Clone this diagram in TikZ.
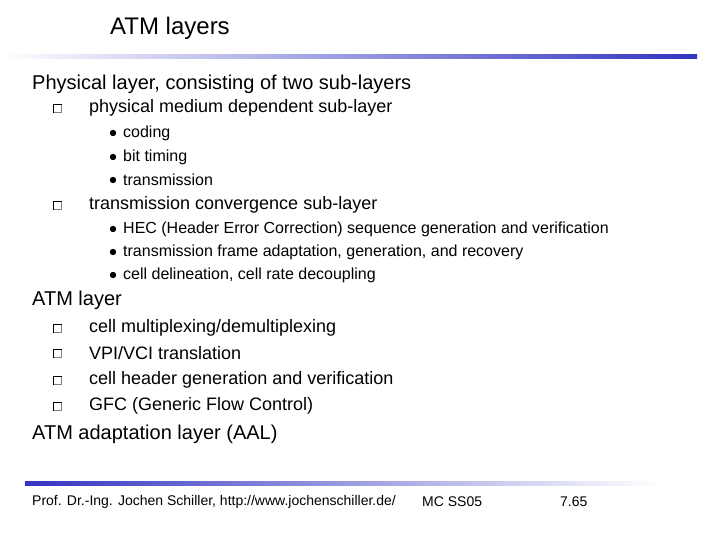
\documentclass[tikz,border=0pt]{standalone}
\usepackage{fontspec}
\setmainfont{Liberation Sans}
\begin{document}
\begin{tikzpicture}[x=1pt,y=-1pt,
  txt/.style={anchor=west,inner sep=0pt},
  lvA/.style={txt,font=\fontsize{20}{22}\selectfont},
  lvB/.style={txt,font=\fontsize{18}{20}\selectfont},
  lvC/.style={txt,font=\fontsize{16}{18}\selectfont},
  foot/.style={txt,font=\fontsize{14}{16}\selectfont}]
\useasboundingbox (0,0) rectangle (720,540);
\fill[white] (0,0) rectangle (720,540);
\shade[left color=white,right color=blue!70!black!80] (0,55) rectangle (697,59);
\shade[left color=blue!70!black!80,right color=white] (25,481) rectangle (660,485);
\node[txt,font=\fontsize{24}{26}\selectfont] (title) at (110,28) {ATM layers};
\newcommand{\qb}[1]{\draw[line width=0.8pt] (53,#1-4) rectangle (61,#1+4); \draw[line width=0.8pt,gray] (54,#1+4.8)--(61.8,#1+4.8)--(61.8,#1-3);}
\newcommand{\db}[1]{\fill (113,#1) circle (3.2);}
\node[lvA] (p) at (32,84) {Physical layer, consisting of two sub-layers};
\qb{108}\node[lvB] (pm) at (89,108) {physical medium dependent sub-layer};
\db{133}\node[lvC] (c1) at (123,133) {coding};
\db{157}\node[lvC] (c2) at (123,157) {bit timing};
\db{180}\node[lvC] (c3) at (123,180) {transmission};
\qb{205}\node[lvB] (tc) at (89,205) {transmission convergence sub-layer};
\db{229}\node[lvC] (t1) at (123,229) {HEC (Header Error Correction) sequence generation and verification};
\db{252}\node[lvC] (t2) at (123,252) {transmission frame adaptation, generation, and recovery};
\db{275}\node[lvC] (t3) at (123,275) {cell delineation, cell rate decoupling};
\node[lvA] (atm) at (32,300) {ATM layer};
\qb{328}\node[lvB] (a1) at (89,328) {cell multiplexing/demultiplexing};
\qb{353}\node[lvB] (a2) at (89,353) {VPI/VCI translation};
\qb{380}\node[lvB] (a3) at (89,380) {cell header generation and verification};
\qb{406}\node[lvB] (a4) at (89,406) {GFC (Generic Flow Control)};
\node[lvA] (aal) at (32,434) {ATM adaptation layer (AAL)};
\node[foot] (f1) at (32,502) {Prof. Dr.-Ing. Jochen Schiller, http://www.jochenschiller.de/};
\node[foot] (f2) at (422,502) {MC SS05};
\node[foot] (f3) at (560,502) {7.65};
\end{tikzpicture}
\end{document}
